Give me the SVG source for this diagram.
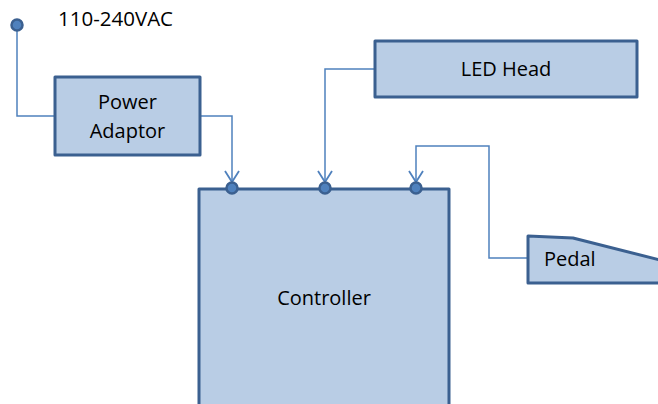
<svg xmlns="http://www.w3.org/2000/svg" width="658" height="404" viewBox="0 0 658 404">
<style>
.box{fill:#B9CDE5;stroke:#3B6090;stroke-width:3;stroke-linejoin:round}
.wire{fill:none;stroke:#4F81BD;stroke-width:1.5}
.dot{fill:#4F81BD;stroke:#3B6090;stroke-width:2.5}
.t{font-family:"Open Sans","Liberation Sans",sans-serif;font-size:20px;fill:#000}
</style>
<defs>
<marker id="arr" markerWidth="16" markerHeight="16" refX="13" refY="8" orient="auto" markerUnits="userSpaceOnUse" viewBox="0 0 16 16">
<path d="M2,1 L13,8 L2,15" fill="none" stroke="#4F81BD" stroke-width="1.8"/>
</marker>
</defs>
<rect width="658" height="404" fill="#fff"/>
<g id="connectors">
<path class="wire" d="M17,25 V116 H55"/>
<path class="wire" d="M200,116 H232 V182" marker-end="url(#arr)"/>
<path class="wire" d="M374,69 H325 V182" marker-end="url(#arr)"/>
<path class="wire" d="M528,258 H489 V146 H416 V182" marker-end="url(#arr)"/>
</g>
<g id="ac-input">
<circle class="dot" cx="17" cy="25" r="5.5"/>
<text class="t" x="58" y="26" style="font-size:20.5px">110-240VAC</text>
</g>
<g id="power-adaptor">
<rect class="box" x="55" y="77" width="145" height="78"/>
<text class="t" x="127.5" y="109" text-anchor="middle">Power</text>
<text class="t" x="127.5" y="138" text-anchor="middle">Adaptor</text>
</g>
<g id="led-head">
<rect class="box" x="375" y="41" width="262" height="56"/>
<text class="t" x="506" y="76" text-anchor="middle">LED Head</text>
</g>
<g id="controller">
<rect class="box" x="199" y="189" width="250" height="230"/>
<text class="t" x="324" y="305" text-anchor="middle">Controller</text>
<circle class="dot" cx="232" cy="188" r="5.5"/>
<circle class="dot" cx="325" cy="188" r="5.5"/>
<circle class="dot" cx="416" cy="188" r="5.5"/>
</g>
<g id="pedal">
<path class="box" d="M528,236 L573,238 L660,260 L660,283 L528,283 Z"/>
<text class="t" x="544" y="266">Pedal</text>
</g>
</svg>
